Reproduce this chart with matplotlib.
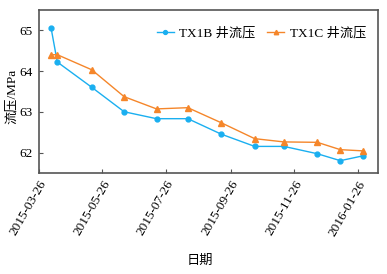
import matplotlib
matplotlib.use('Agg')
import matplotlib.pyplot as plt
import matplotlib.dates as mdates
import pandas as pd

plt.rcParams['font.family'] = ['Liberation Serif', 'Noto Sans CJK SC']

dates = ['2015-04-07', '2015-04-13', '2015-05-16', '2015-06-16', '2015-07-17',
         '2015-08-16', '2015-09-17', '2015-10-19', '2015-11-16', '2015-12-18',
         '2016-01-09', '2016-01-31']
tx1b = [65.06, 64.22, 63.60, 63.00, 62.83, 62.83, 62.45, 62.15, 62.15, 61.97, 61.80, 61.92]
tx1c = [64.40, 64.40, 64.03, 63.37, 63.07, 63.10, 62.73, 62.34, 62.26, 62.25, 62.07, 62.04]
tick_dates = ['2015-03-26', '2015-05-26', '2015-07-26', '2015-09-26', '2015-11-26', '2016-01-26']

x = pd.to_datetime(dates)
ticks = pd.to_datetime(tick_dates)

fig = plt.figure(figsize=(3.87, 2.74), dpi=100)
ax = fig.add_axes([0.0995, 0.369, 0.877, 0.595])
ax.plot(x, tx1b, color='#1aaff0', marker='o', markersize=3.5, linewidth=1, label='TX1B 井流压')
ax.plot(x, tx1c, color='#f5862a', marker='^', markersize=4, linewidth=1, label='TX1C 井流压')

ax.set_xlim(pd.Timestamp('2015-03-26'), pd.Timestamp('2016-02-14'))
ax.set_ylim(61.5, 65.5)
ax.set_xticks(ticks)
ax.xaxis.set_major_formatter(mdates.DateFormatter('%Y-%m-%d'))
ax.set_yticks([62, 63, 64, 65])
plt.setp(ax.get_xticklabels(), rotation=60, ha='right', rotation_mode='anchor')
ax.tick_params(direction='in', labelsize=9.5, length=3, color='#555555', pad=4)
for s in ax.spines.values():
    s.set_color('#555555')
    s.set_linewidth(1.2)

ax.set_ylabel('流压/MPa', fontsize=9.5)
ax.yaxis.set_label_coords(-0.062, 0.47)
ax.set_xlabel('日期', fontsize=9.5)
ax.xaxis.set_label_coords(0.476, -0.50)
ax.legend(loc='upper right', ncol=2, frameon=False, fontsize=9.5,
          handlelength=1.3, columnspacing=0.9, handletextpad=0.4,
          bbox_to_anchor=(1.0, 0.97), markerscale=0.8)

fig.savefig('out.png', dpi=100)
